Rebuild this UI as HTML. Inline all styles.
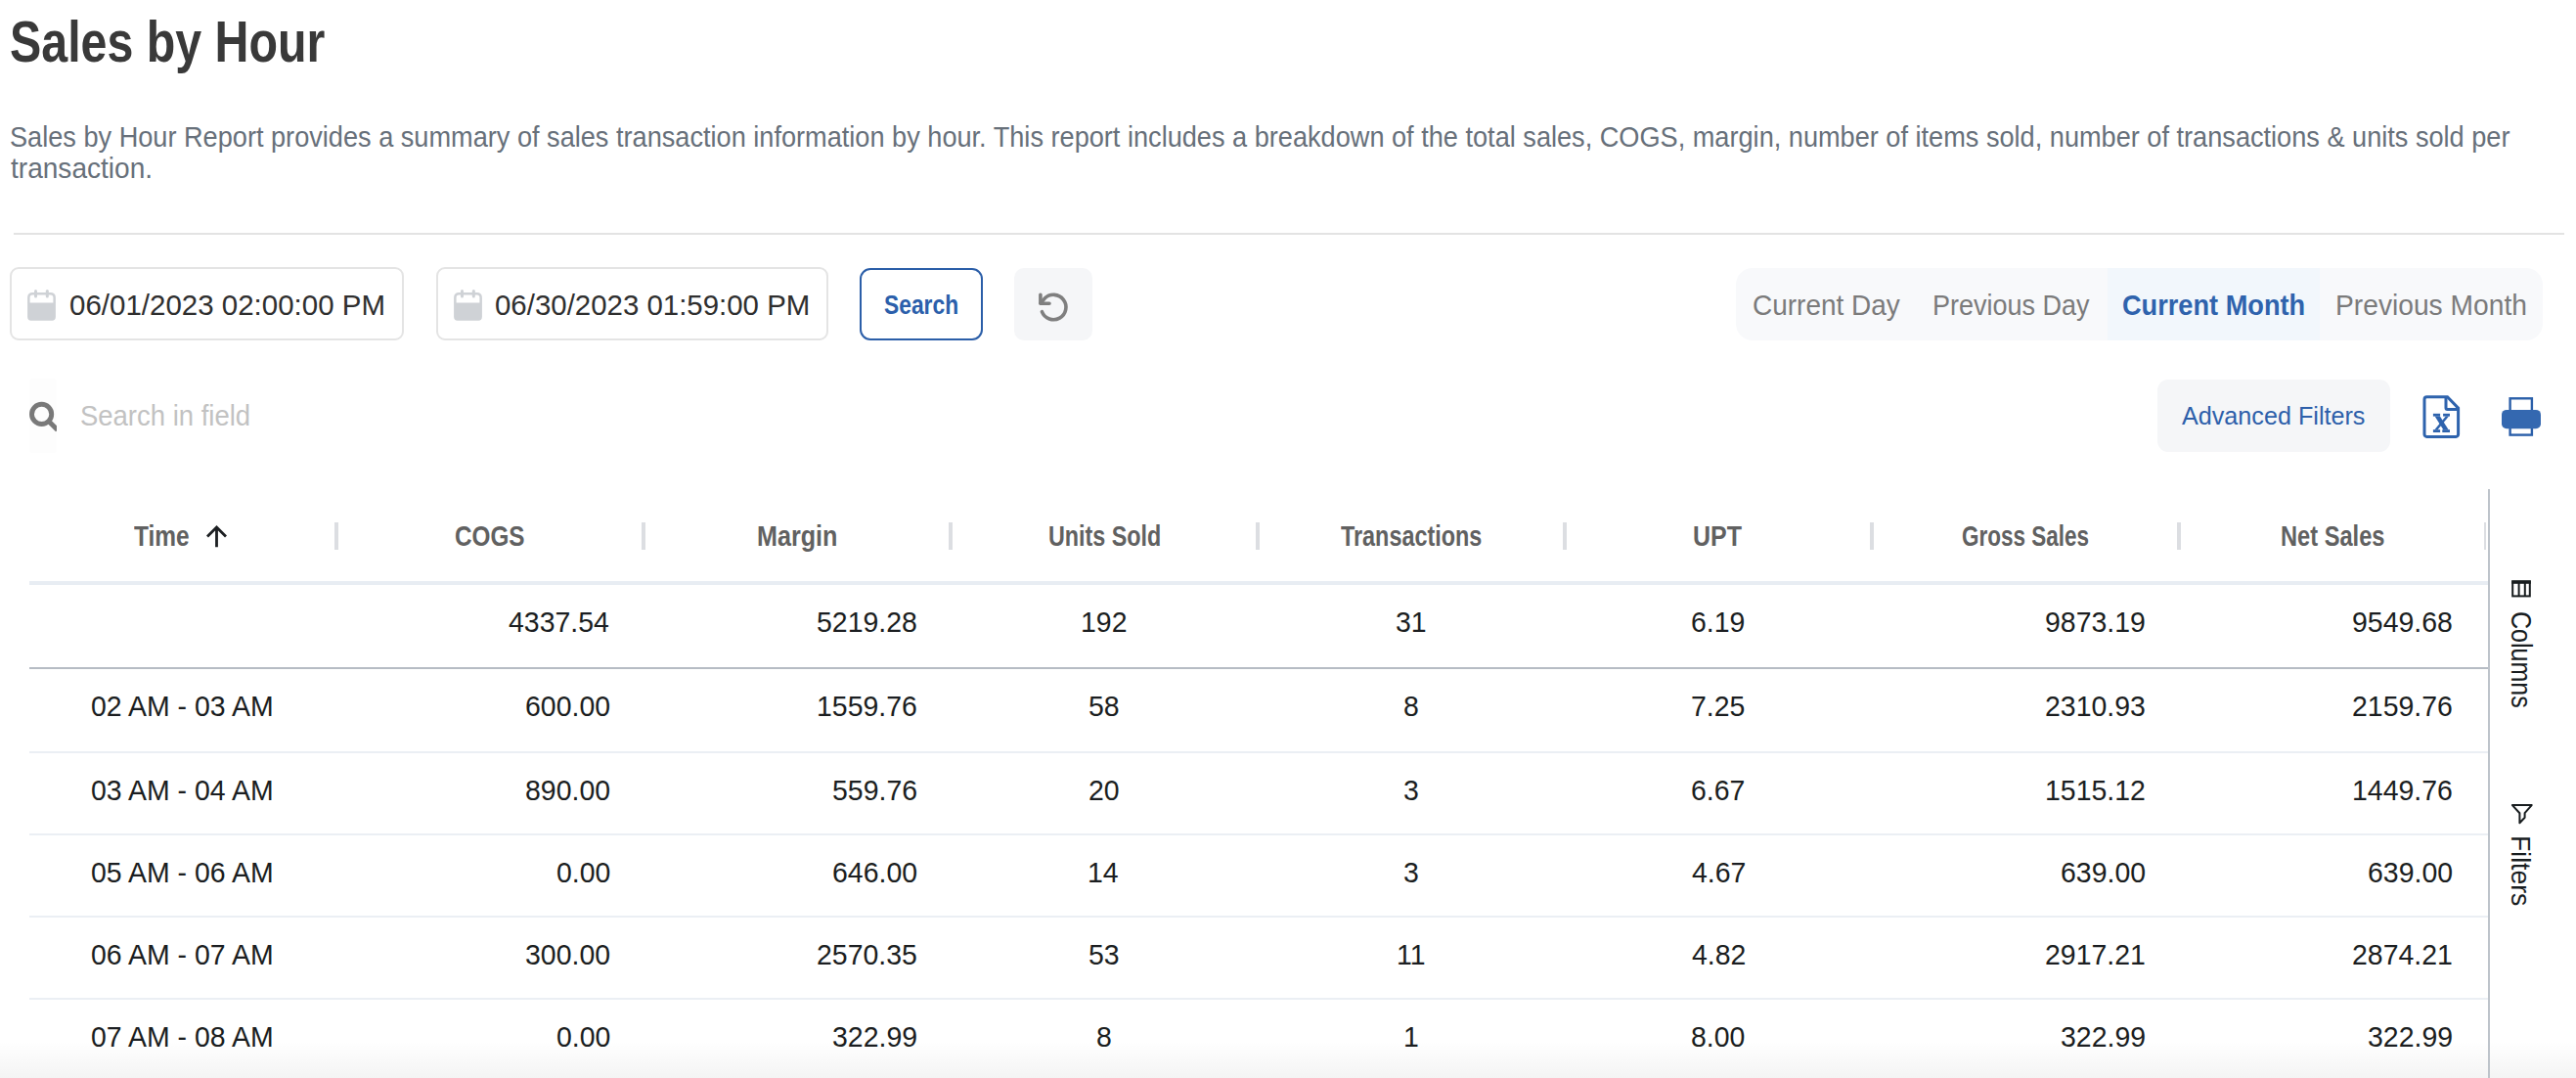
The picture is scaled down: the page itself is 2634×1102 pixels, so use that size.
<!DOCTYPE html>
<html><head><meta charset="utf-8">
<style>
html,body{margin:0;padding:0;}
body{width:2634px;height:1102px;overflow:hidden;background:#fff;position:relative;font-family:"Liberation Sans",sans-serif;}
.t{position:absolute;white-space:nowrap;line-height:1;transform-origin:0 0;}
.b{position:absolute;box-sizing:border-box;}
</style></head><body>
<!-- divider -->
<div class="b" style="left:14px;top:238px;width:2608px;height:2px;background:#e3e3e3"></div>
<!-- date inputs -->
<div class="b" style="left:10px;top:273px;width:403px;height:75px;border:2px solid #e4e4e4;border-radius:9px"></div>
<div class="b" style="left:445.5px;top:273px;width:401px;height:75px;border:2px solid #e4e4e4;border-radius:9px"></div>
<!-- calendar icons -->
<svg class="b" style="left:27px;top:295px" width="32" height="34" viewBox="0 0 32 34">
  <path d="M2.35 15 V8.9 a3.75 3.75 0 0 1 3.75 -3.75 H24.9 a3.75 3.75 0 0 1 3.75 3.75 V15" fill="none" stroke="#cfd2d6" stroke-width="2.5"/>
  <path d="M1.1 14.6 H29.9 V29 a3.7 3.7 0 0 1 -3.7 3.7 H4.8 a3.7 3.7 0 0 1 -3.7 -3.7 Z" fill="#cfd2d6"/>
  <rect x="8" y="1.1" width="3" height="8.4" rx="1.5" fill="#cfd2d6"/>
  <rect x="19.8" y="1.1" width="3" height="8.4" rx="1.5" fill="#cfd2d6"/>
</svg>
<svg class="b" style="left:462.5px;top:295px" width="32" height="34" viewBox="0 0 32 34">
  <path d="M2.35 15 V8.9 a3.75 3.75 0 0 1 3.75 -3.75 H24.9 a3.75 3.75 0 0 1 3.75 3.75 V15" fill="none" stroke="#cfd2d6" stroke-width="2.5"/>
  <path d="M1.1 14.6 H29.9 V29 a3.7 3.7 0 0 1 -3.7 3.7 H4.8 a3.7 3.7 0 0 1 -3.7 -3.7 Z" fill="#cfd2d6"/>
  <rect x="8" y="1.1" width="3" height="8.4" rx="1.5" fill="#cfd2d6"/>
  <rect x="19.8" y="1.1" width="3" height="8.4" rx="1.5" fill="#cfd2d6"/>
</svg>
<!-- search button -->
<div class="b" style="left:879px;top:273.8px;width:126px;height:74px;border:2px solid #2b5ea8;border-radius:11px"></div>
<!-- reset button -->
<div class="b" style="left:1037px;top:273.8px;width:80px;height:74px;background:#f5f6f8;border-radius:10px"></div>
<svg class="b" style="left:1037px;top:274px" width="80" height="74" viewBox="1037 274 80 74">
  <path d="M1065.4 318.6 A12.7 12.7 0 1 0 1068.2 305.1 L1064 310" fill="none" stroke="#7f7f7f" stroke-width="3.6" stroke-linecap="round" stroke-linejoin="round"/>
  <path d="M1063.9 301.2 V310.2 H1073" fill="none" stroke="#7f7f7f" stroke-width="3.6" stroke-linecap="round" stroke-linejoin="round"/>
</svg>
<!-- segmented control -->
<div class="b" style="left:1775px;top:273.8px;width:825px;height:74.2px;background:#f8f9fb;border-radius:17px"></div>
<div class="b" style="left:2154.5px;top:273.8px;width:217px;height:74.2px;background:#f2f7fc"></div>
<!-- search field icon -->
<div class="b" style="left:30px;top:387px;width:28px;height:76px;background:#fdfdfd;border-radius:3px"></div>
<svg class="b" style="left:25px;top:405px" width="33" height="40" viewBox="25 405 33 40">
  <circle cx="42.6" cy="423.4" r="10.1" fill="none" stroke="#797979" stroke-width="4.9"/>
  <path d="M49.2 430 L58.8 439.6" stroke="#797979" stroke-width="5" stroke-linecap="butt"/>
</svg>
<!-- advanced filters -->
<div class="b" style="left:2206px;top:387.6px;width:238px;height:74px;background:#f5f6f8;border-radius:11px"></div>
<!-- excel icon -->
<svg class="b" style="left:2470px;top:395px" width="60" height="60" viewBox="2470 395 60 60">
  <path d="M2481.5 405.7 H2502.5 L2513.6 417.2 V444 a2.4 2.4 0 0 1 -2.4 2.4 H2481.4 a2.4 2.4 0 0 1 -2.4 -2.4 V408.2 a2.5 2.5 0 0 1 2.5 -2.5z" fill="none" stroke="#2e63ad" stroke-width="3"/>
  <path d="M2501 406 V417 a1.5 1.5 0 0 0 1.5 1.5 H2513.5" fill="none" stroke="#2e63ad" stroke-width="3"/>
  <g fill="#2e63ad">
    <rect x="2487.9" y="422.8" width="7.2" height="2.8"/>
    <rect x="2498.1" y="422.8" width="6.9" height="2.8"/>
    <rect x="2487.9" y="439.2" width="7.2" height="2.8"/>
    <rect x="2497.3" y="439.2" width="7.7" height="2.8"/>
    <polygon points="2489.6,425.5 2494.9,425.5 2503.6,439.3 2498.3,439.3"/>
    <polygon points="2500.8,425.5 2504,425.5 2492.6,439.3 2489.4,439.3"/>
  </g>
</svg>
<!-- printer icon -->
<svg class="b" style="left:2550px;top:400px" width="56" height="52" viewBox="2550 400 56 52">
  <rect x="2566.6" y="407.3" width="22.3" height="14" fill="none" stroke="#2b5fa9" stroke-width="2.4"/>
  <rect x="2566.6" y="434" width="22.3" height="10.6" fill="none" stroke="#2b5fa9" stroke-width="2.4"/>
  <rect x="2558" y="418.9" width="40" height="19.3" rx="5" fill="#3468b0"/>
</svg>
<!-- table header separators -->
<div class="b" style="left:342px;top:534px;width:4px;height:28px;background:#dcdee2"></div>
<div class="b" style="left:656px;top:534px;width:4px;height:28px;background:#dcdee2"></div>
<div class="b" style="left:970px;top:534px;width:4px;height:28px;background:#dcdee2"></div>
<div class="b" style="left:1284px;top:534px;width:4px;height:28px;background:#dcdee2"></div>
<div class="b" style="left:1598px;top:534px;width:4px;height:28px;background:#dcdee2"></div>
<div class="b" style="left:1912px;top:534px;width:4px;height:28px;background:#dcdee2"></div>
<div class="b" style="left:2226px;top:534px;width:4px;height:28px;background:#dcdee2"></div>
<div class="b" style="left:2540px;top:534px;width:2px;height:28px;background:#dcdee2"></div>
<!-- header bottom border -->
<div class="b" style="left:30px;top:594px;width:2514px;height:4px;background:#e8edf3"></div>
<!-- totals bottom border -->
<div class="b" style="left:30px;top:682px;width:2514px;height:2px;background:#b6bcc4"></div>
<!-- row lines -->
<div class="b" style="left:30px;top:768px;width:2514px;height:2px;background:#ebeff4"></div>
<div class="b" style="left:30px;top:852px;width:2514px;height:2px;background:#ebeff4"></div>
<div class="b" style="left:30px;top:936px;width:2514px;height:2px;background:#ebeff4"></div>
<div class="b" style="left:30px;top:1020px;width:2514px;height:2px;background:#ebeff4"></div>
<!-- bottom shade -->
<div class="b" style="left:0;top:1064px;width:2634px;height:38px;background:linear-gradient(to bottom,rgba(0,0,0,0),rgba(0,0,0,0.045))"></div>
<!-- sort arrow -->
<svg class="b" style="left:205px;top:532px" width="32" height="32" viewBox="205 532 32 32">
  <path d="M221.5 559.3 V539.5 M212 548.5 L221.5 539 L231 548.5" fill="none" stroke="#1c1f22" stroke-width="2.8"/>
</svg>
<!-- side panel -->
<div class="b" style="left:2544px;top:500px;width:2px;height:602px;background:#bdc3ca"></div>
<svg class="b" style="left:2560px;top:585px" width="40" height="34" viewBox="2560 585 40 34">
  <rect x="2569.2" y="594.4" width="17.6" height="15" fill="none" stroke="#181d1f" stroke-width="2"/>
  <rect x="2568.2" y="593.4" width="19.6" height="3.4" fill="#181d1f"/>
  <path d="M2575.6 595 V609.5 M2581.8 595 V609.5" stroke="#181d1f" stroke-width="2"/>
</svg>
<svg class="b" style="left:2560px;top:815px" width="40" height="34" viewBox="2560 815 40 34">
  <path d="M2568.9 823.1 H2588.7 L2581.6 831.2 V835.7 L2576.4 841.2 V831.2 Z" fill="none" stroke="#181d1f" stroke-width="2" stroke-linejoin="round"/>
</svg>
<div class="t" style="left:9.77px;top:13.72px;font-size:58.55px;color:#393939;font-weight:700;transform:scaleX(0.8257);">Sales by Hour</div>
<div class="t" style="left:10.06px;top:125.51px;font-size:28.99px;color:#67707a;transform:scaleX(0.9364);">Sales by Hour Report provides a summary of sales transaction information by hour. This report includes a breakdown of the total sales, COGS, margin, number of items sold, number of transactions &amp; units sold per</div>
<div class="t" style="left:11.00px;top:158.41px;font-size:28.99px;color:#67707a;transform:scaleX(0.9682);">transaction.</div>
<div class="t" style="left:71.41px;top:296.97px;font-size:29.86px;color:#2f2f2f;transform:scaleX(0.9876);">06/01/2023 02:00:00 PM</div>
<div class="t" style="left:506.41px;top:296.97px;font-size:29.86px;color:#2f2f2f;transform:scaleX(0.9854);">06/30/2023 01:59:00 PM</div>
<div class="t" style="left:903.90px;top:298.09px;font-size:27.83px;color:#2b5fab;font-weight:700;transform:scaleX(0.8194);">Search</div>
<div class="t" style="left:1791.52px;top:297.75px;font-size:28.70px;color:#7b7b7b;transform:scaleX(0.9754);">Current Day</div>
<div class="t" style="left:1975.82px;top:297.75px;font-size:28.70px;color:#7b7b7b;transform:scaleX(0.9412);">Previous Day</div>
<div class="t" style="left:2169.56px;top:297.71px;font-size:28.99px;color:#2f63ad;font-weight:700;transform:scaleX(0.9373);">Current Month</div>
<div class="t" style="left:2388.03px;top:297.75px;font-size:28.70px;color:#7b7b7b;transform:scaleX(0.9829);">Previous Month</div>
<div class="t" style="left:81.95px;top:411.43px;font-size:28.84px;color:#c2c2c2;transform:scaleX(0.9527);">Search in field</div>
<div class="t" style="left:2230.80px;top:412.49px;font-size:26.52px;color:#2d5faa;transform:scaleX(0.9492);">Advanced Filters</div>
<div class="t" style="left:137.20px;top:534.15px;font-size:28.70px;color:#616161;font-weight:700;transform:scaleX(0.8521);">Time</div>
<div class="t" style="left:464.85px;top:534.15px;font-size:28.70px;color:#616161;font-weight:700;transform:scaleX(0.8471);">COGS</div>
<div class="t" style="left:774.02px;top:534.15px;font-size:28.70px;color:#616161;font-weight:700;transform:scaleX(0.8764);">Margin</div>
<div class="t" style="left:1071.54px;top:534.15px;font-size:28.70px;color:#616161;font-weight:700;transform:scaleX(0.8133);">Units Sold</div>
<div class="t" style="left:1371.25px;top:534.15px;font-size:28.70px;color:#616161;font-weight:700;transform:scaleX(0.8153);">Transactions</div>
<div class="t" style="left:1731.38px;top:534.15px;font-size:28.70px;color:#616161;font-weight:700;transform:scaleX(0.8707);">UPT</div>
<div class="t" style="left:2006.02px;top:534.15px;font-size:28.70px;color:#616161;font-weight:700;transform:scaleX(0.7834);">Gross Sales</div>
<div class="t" style="left:2331.73px;top:534.15px;font-size:28.70px;color:#616161;font-weight:700;transform:scaleX(0.8246);">Net Sales</div>
<div class="t" style="left:520.10px;top:622.11px;font-size:28.99px;color:#1b1e21;transform:scaleX(0.9818);">4337.54</div>
<div class="t" style="left:835.08px;top:622.11px;font-size:28.99px;color:#1b1e21;transform:scaleX(0.9818);">5219.28</div>
<div class="t" style="left:1104.84px;top:622.11px;font-size:28.99px;color:#1b1e21;transform:scaleX(0.9818);">192</div>
<div class="t" style="left:1427.24px;top:622.11px;font-size:28.99px;color:#1b1e21;transform:scaleX(0.9818);">31</div>
<div class="t" style="left:1729.38px;top:622.11px;font-size:28.99px;color:#1b1e21;transform:scaleX(0.9818);">6.19</div>
<div class="t" style="left:2091.08px;top:622.11px;font-size:28.99px;color:#1b1e21;transform:scaleX(0.9818);">9873.19</div>
<div class="t" style="left:2405.08px;top:622.11px;font-size:28.99px;color:#1b1e21;transform:scaleX(0.9818);">9549.68</div>
<div class="t" style="left:92.72px;top:707.81px;font-size:28.99px;color:#1b1e21;transform:scaleX(0.9818);">02 AM - 03 AM</div>
<div class="t" style="left:536.90px;top:707.81px;font-size:28.99px;color:#1b1e21;transform:scaleX(0.9818);">600.00</div>
<div class="t" style="left:835.08px;top:707.81px;font-size:28.99px;color:#1b1e21;transform:scaleX(0.9818);">1559.76</div>
<div class="t" style="left:1113.24px;top:707.81px;font-size:28.99px;color:#1b1e21;transform:scaleX(0.9818);">58</div>
<div class="t" style="left:1435.15px;top:707.81px;font-size:28.99px;color:#1b1e21;transform:scaleX(0.9818);">8</div>
<div class="t" style="left:1729.38px;top:707.81px;font-size:28.99px;color:#1b1e21;transform:scaleX(0.9818);">7.25</div>
<div class="t" style="left:2091.08px;top:707.81px;font-size:28.99px;color:#1b1e21;transform:scaleX(0.9818);">2310.93</div>
<div class="t" style="left:2405.08px;top:707.81px;font-size:28.99px;color:#1b1e21;transform:scaleX(0.9818);">2159.76</div>
<div class="t" style="left:92.72px;top:793.71px;font-size:28.99px;color:#1b1e21;transform:scaleX(0.9818);">03 AM - 04 AM</div>
<div class="t" style="left:536.90px;top:793.71px;font-size:28.99px;color:#1b1e21;transform:scaleX(0.9818);">890.00</div>
<div class="t" style="left:850.90px;top:793.71px;font-size:28.99px;color:#1b1e21;transform:scaleX(0.9818);">559.76</div>
<div class="t" style="left:1113.24px;top:793.71px;font-size:28.99px;color:#1b1e21;transform:scaleX(0.9818);">20</div>
<div class="t" style="left:1435.15px;top:793.71px;font-size:28.99px;color:#1b1e21;transform:scaleX(0.9818);">3</div>
<div class="t" style="left:1729.38px;top:793.71px;font-size:28.99px;color:#1b1e21;transform:scaleX(0.9818);">6.67</div>
<div class="t" style="left:2091.08px;top:793.71px;font-size:28.99px;color:#1b1e21;transform:scaleX(0.9818);">1515.12</div>
<div class="t" style="left:2405.08px;top:793.71px;font-size:28.99px;color:#1b1e21;transform:scaleX(0.9818);">1449.76</div>
<div class="t" style="left:92.72px;top:877.91px;font-size:28.99px;color:#1b1e21;transform:scaleX(0.9818);">05 AM - 06 AM</div>
<div class="t" style="left:568.54px;top:877.91px;font-size:28.99px;color:#1b1e21;transform:scaleX(0.9818);">0.00</div>
<div class="t" style="left:850.90px;top:877.91px;font-size:28.99px;color:#1b1e21;transform:scaleX(0.9818);">646.00</div>
<div class="t" style="left:1112.25px;top:877.91px;font-size:28.99px;color:#1b1e21;transform:scaleX(0.9818);">14</div>
<div class="t" style="left:1435.15px;top:877.91px;font-size:28.99px;color:#1b1e21;transform:scaleX(0.9818);">3</div>
<div class="t" style="left:1729.87px;top:877.91px;font-size:28.99px;color:#1b1e21;transform:scaleX(0.9818);">4.67</div>
<div class="t" style="left:2106.90px;top:877.91px;font-size:28.99px;color:#1b1e21;transform:scaleX(0.9818);">639.00</div>
<div class="t" style="left:2420.90px;top:877.91px;font-size:28.99px;color:#1b1e21;transform:scaleX(0.9818);">639.00</div>
<div class="t" style="left:92.72px;top:961.81px;font-size:28.99px;color:#1b1e21;transform:scaleX(0.9818);">06 AM - 07 AM</div>
<div class="t" style="left:536.90px;top:961.81px;font-size:28.99px;color:#1b1e21;transform:scaleX(0.9818);">300.00</div>
<div class="t" style="left:835.08px;top:961.81px;font-size:28.99px;color:#1b1e21;transform:scaleX(0.9818);">2570.35</div>
<div class="t" style="left:1113.24px;top:961.81px;font-size:28.99px;color:#1b1e21;transform:scaleX(0.9818);">53</div>
<div class="t" style="left:1427.80px;top:961.81px;font-size:28.99px;color:#1b1e21;transform:scaleX(0.9818);">11</div>
<div class="t" style="left:1729.87px;top:961.81px;font-size:28.99px;color:#1b1e21;transform:scaleX(0.9818);">4.82</div>
<div class="t" style="left:2091.08px;top:961.81px;font-size:28.99px;color:#1b1e21;transform:scaleX(0.9818);">2917.21</div>
<div class="t" style="left:2405.08px;top:961.81px;font-size:28.99px;color:#1b1e21;transform:scaleX(0.9818);">2874.21</div>
<div class="t" style="left:92.72px;top:1045.71px;font-size:28.99px;color:#1b1e21;transform:scaleX(0.9818);">07 AM - 08 AM</div>
<div class="t" style="left:568.54px;top:1045.71px;font-size:28.99px;color:#1b1e21;transform:scaleX(0.9818);">0.00</div>
<div class="t" style="left:850.90px;top:1045.71px;font-size:28.99px;color:#1b1e21;transform:scaleX(0.9818);">322.99</div>
<div class="t" style="left:1121.15px;top:1045.71px;font-size:28.99px;color:#1b1e21;transform:scaleX(0.9818);">8</div>
<div class="t" style="left:1434.65px;top:1045.71px;font-size:28.99px;color:#1b1e21;transform:scaleX(0.9818);">1</div>
<div class="t" style="left:1729.38px;top:1045.71px;font-size:28.99px;color:#1b1e21;transform:scaleX(0.9818);">8.00</div>
<div class="t" style="left:2106.90px;top:1045.71px;font-size:28.99px;color:#1b1e21;transform:scaleX(0.9818);">322.99</div>
<div class="t" style="left:2420.90px;top:1045.71px;font-size:28.99px;color:#1b1e21;transform:scaleX(0.9818);">322.99</div>
<div class="t" style="left:2591.65px;top:625.43px;font-size:28.70px;color:#181d1f;transform:rotate(90deg) scaleX(0.8726);">Columns</div>
<div class="t" style="left:2591.14px;top:853.90px;font-size:27.97px;color:#181d1f;transform:rotate(90deg) scaleX(0.9501);">Filters</div>
</body></html>
